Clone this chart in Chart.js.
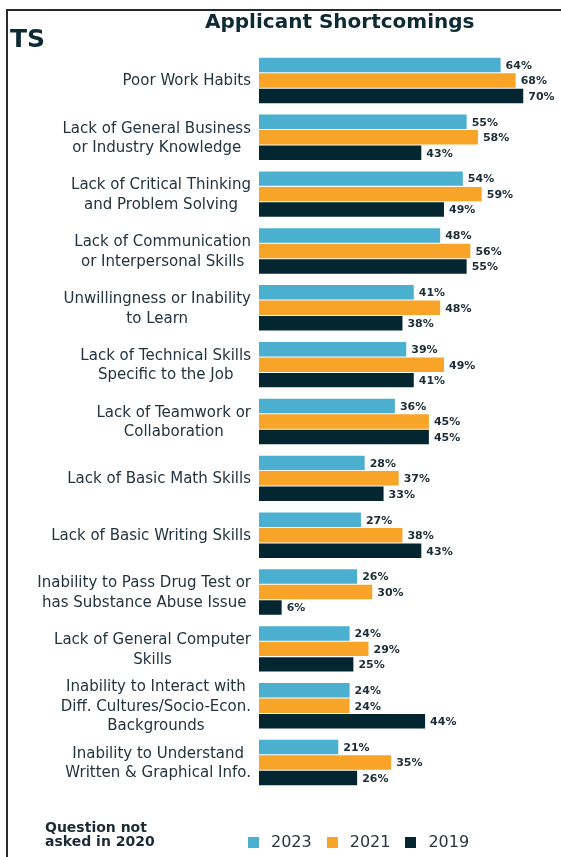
<!DOCTYPE html>
<html>
<head>
<meta charset="utf-8">
<script src="https://cdn.jsdelivr.net/npm/chart.js@4/dist/chart.umd.min.js"></script>
<style>
  html, body { margin: 0; padding: 0; background: #fff; }
  #wrap { position: relative; width: 561px; height: 857px; overflow: hidden; }
  #frame {
    position: absolute; left: 6px; top: 9px; right: -4px; bottom: -4px;
    border-left: 2px solid #2a2a2a; border-top: 2px solid #2a2a2a;
  }
  #chart { position: absolute; left: 0; top: 0; }
  .ts { position: absolute; left: 10px; top: 26px; font: bold 25px/25px 'DejaVu Sans'; color: #0e2a35; }
  .title { position: absolute; left: 205px; top: 11px; font: bold 20px/20px 'DejaVu Sans'; color: #0e2a35; }
  .note { position: absolute; left: 45px; top: 820px; font: bold 14px/14px 'DejaVu Sans'; color: #1b2b35; }
  #legend { position: absolute; left: 248px; top: 834px; display: flex; align-items: center; font: 16px/16px 'DejaVu Sans'; color: #2a3540; }
  #legend .item { display: flex; align-items: center; margin-right: 15px; }
  #legend .box { width: 11px; height: 11px; margin-right: 12px; }
</style>
</head>
<body>
<div id="wrap">
  <div id="frame"></div>
  <canvas id="chart" width="561" height="857"></canvas>
  <div class="ts">TS</div>
  <div class="title">Applicant Shortcomings</div>
  <div class="note">Question not<br>asked in 2020</div>
  <div id="legend"></div>
</div>
<script>
const categories = [
  ['Poor Work Habits'],
  ['Lack of General Business', 'or Industry Knowledge'],
  ['Lack of Critical Thinking', 'and Problem Solving'],
  ['Lack of Communication', 'or Interpersonal Skills'],
  ['Unwillingness or Inability', 'to Learn'],
  ['Lack of Technical Skills', 'Specific to the Job'],
  ['Lack of Teamwork or', 'Collaboration'],
  ['Lack of Basic Math Skills'],
  ['Lack of Basic Writing Skills'],
  ['Inability to Pass Drug Test or', 'has Substance Abuse Issue'],
  ['Lack of General Computer', 'Skills'],
  ['Inability to Interact with', 'Diff. Cultures/Socio-Econ.', 'Backgrounds'],
  ['Inability to Understand', 'Written & Graphical Info.'],
]

const seriesNames = ['2023', '2021', '2019']
const values2023 = [64, 55, 54, 48, 41, 39, 36, 28, 27, 26, 24, 24, 21]
const values2021 = [68, 58, 59, 56, 48, 49, 45, 37, 38, 30, 29, 24, 35]
const values2019 = [70, 43, 49, 55, 38, 41, 45, 33, 43, 6, 25, 44, 26]
const seriesColors = ['#4bafd0', '#f8a428', '#032631']

// category labels (right-aligned blocks, centred lines) and value labels
const sideLabels = {
  id: 'sideLabels',
  afterDatasetsDraw(chart) {
    const ctx = chart.ctx
    const yScale = chart.scales.y
    ctx.save()

    ctx.font = '15px "DejaVu Sans"'
    ctx.fillStyle = '#22343f'
    ctx.textAlign = 'center'
    ctx.textBaseline = 'alphabetic'
    categories.forEach((lines, i) => {
      const w = Math.max(...lines.map(l => ctx.measureText(l).width))
      const cx = 251 - w / 2
      const cy = yScale.getPixelForValue(i)
      lines.forEach((line, j) => {
        ctx.fillText(line, cx, cy + 5 + (j - (lines.length - 1) / 2) * 19.5)
      })
    })

    ctx.font = 'bold 11px "DejaVu Sans"'
    ctx.fillStyle = '#1b2d37'
    ctx.textAlign = 'left'
    ctx.textBaseline = 'middle'
    chart.data.datasets.forEach((ds, d) => {
      chart.getDatasetMeta(d).data.forEach((bar, i) => {
        ctx.fillText(ds.data[i] + '%', bar.x + 5, bar.y + 1)
      })
    })

    ctx.restore()
  },
}

function initChart() {
  const ctx = document.getElementById('chart')
  const allValues = [values2023, values2021, values2019]

  new Chart(ctx, {
    type: 'bar',
    data: {
      labels: categories.map(lines => lines.join(' ')),
      datasets: allValues.map((values, i) => ({
        label: seriesNames[i],
        data: values,
        backgroundColor: seriesColors[i],
        borderWidth: 0,
        categoryPercentage: 0.817,
        barPercentage: 0.935,
      })),
    },
    options: {
      indexAxis: 'y',
      responsive: false,
      animation: false,
      layout: { padding: { left: 259, top: 52, bottom: 66, right: 0 } },
      scales: {
        x: { display: false, min: 0, max: 80 },
        y: { display: false },
      },
      plugins: {
        legend: { display: false },
        tooltip: { enabled: false },
      },
    },
    plugins: [sideLabels],
  })

  buildLegend()
}

function buildLegend() {
  const legend = document.getElementById('legend')
  seriesNames.forEach((name, i) => {
    const item = document.createElement('div')
    item.className = 'item'
    const box = document.createElement('span')
    box.className = 'box'
    box.style.background = seriesColors[i]
    const text = document.createElement('span')
    text.textContent = name
    item.appendChild(box)
    item.appendChild(text)
    legend.appendChild(item)
  })
}

initChart()
</script>
</body>
</html>
